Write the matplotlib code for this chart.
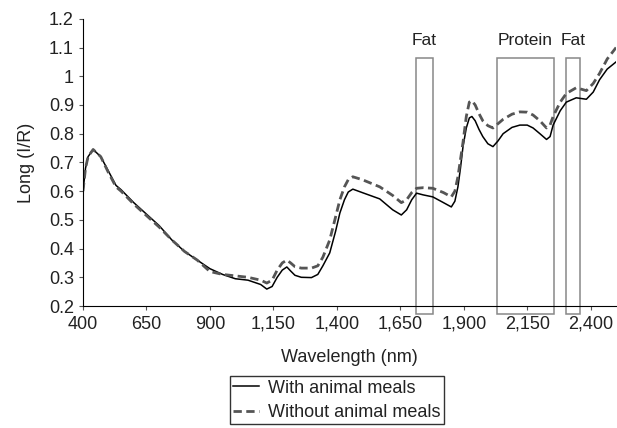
import matplotlib
matplotlib.use('Agg')
import matplotlib.pyplot as plt
from matplotlib.patches import Rectangle
from matplotlib.ticker import FuncFormatter

plt.rcParams['font.family'] = ['Liberation Sans', 'DejaVu Sans']

# spectra
wavelength = [400, 410, 420, 440, 470, 500, 530, 550, 600, 650, 700, 750, 800, 850,
              900, 950, 1000, 1050, 1100, 1124, 1145, 1165, 1185, 1203, 1218, 1235,
              1260, 1300, 1325, 1345, 1372, 1395, 1412, 1430, 1445, 1463, 1500, 1569,
              1620, 1654, 1675, 1695, 1714, 1740, 1778, 1820, 1851, 1865, 1877, 1887,
              1897, 1910, 1922, 1932, 1945, 1960, 1975, 1995, 2015, 2035, 2055, 2090,
              2121, 2150, 2173, 2200, 2226, 2240, 2252, 2280, 2304, 2343, 2383, 2410,
              2435, 2465, 2500]
with_meals = [0.60, 0.68, 0.72, 0.745, 0.72, 0.67, 0.62, 0.605, 0.56, 0.52, 0.48, 0.43,
              0.39, 0.36, 0.33, 0.31, 0.295, 0.29, 0.275, 0.259, 0.268, 0.30, 0.325,
              0.336, 0.322, 0.307, 0.30, 0.299, 0.31, 0.34, 0.385, 0.46, 0.524, 0.57,
              0.597, 0.607, 0.595, 0.573, 0.535, 0.517, 0.535, 0.57, 0.593, 0.587,
              0.58, 0.56, 0.545, 0.565, 0.615, 0.68, 0.755, 0.82, 0.855, 0.86, 0.845,
              0.815, 0.79, 0.765, 0.755, 0.775, 0.80, 0.822, 0.83, 0.83, 0.82, 0.80,
              0.78, 0.79, 0.83, 0.88, 0.91, 0.925, 0.92, 0.945, 0.988, 1.025, 1.05]
without_meals = [0.60, 0.68, 0.72, 0.745, 0.72, 0.665, 0.615, 0.60, 0.555, 0.515,
                 0.475, 0.43, 0.39, 0.36, 0.32, 0.31, 0.305, 0.30, 0.29, 0.28, 0.29,
                 0.325, 0.35, 0.36, 0.35, 0.337, 0.332, 0.332, 0.34, 0.37, 0.43, 0.51,
                 0.57, 0.615, 0.64, 0.65, 0.64, 0.615, 0.585, 0.56, 0.57, 0.595, 0.61,
                 0.612, 0.61, 0.595, 0.58, 0.60, 0.65, 0.71, 0.77, 0.86, 0.91, 0.915,
                 0.90, 0.87, 0.845, 0.828, 0.82, 0.835, 0.85, 0.868, 0.876, 0.875,
                 0.865, 0.845, 0.82, 0.83, 0.86, 0.91, 0.94, 0.96, 0.95, 0.975, 1.01,
                 1.06, 1.10]

# absorption bands (start, end, label)
band_start = [1712, 2032, 2304]
band_end = [1777, 2254, 2357]
band_label = ['Fat', 'Protein', 'Fat']

fig = plt.figure(figsize=(6.17, 4.28), dpi=100)
ax = fig.add_axes([0.1345, 0.285, 0.864, 0.671])

ax.plot(wavelength, with_meals, color='black', lw=1.1, label='With animal meals')
ax.plot(wavelength, without_meals, color='#555555', lw=2.0, dashes=(3, 1.6),
        label='Without animal meals')

for s, e, lab in zip(band_start, band_end, band_label):
    ax.add_patch(Rectangle((s, 0.172), e - s, 1.065 - 0.172, fill=False,
                           edgecolor='#888888', lw=1.1, clip_on=False))
    ax.text((s + e) / 2, 1.097, lab, ha='center', va='bottom', fontsize=12.5,
            color='#222222')

ax.set_xlim(400, 2500)
ax.set_ylim(0.2, 1.2)
ax.set_xticks([400, 650, 900, 1150, 1400, 1650, 1900, 2150, 2400])
ax.set_yticks([0.2, 0.3, 0.4, 0.5, 0.6, 0.7, 0.8, 0.9, 1.0, 1.1, 1.2])
ax.xaxis.set_major_formatter(FuncFormatter(lambda v, p: f'{int(v):,}'))
ax.yaxis.set_major_formatter(FuncFormatter(lambda v, p: f'{v:g}'))
ax.tick_params(labelsize=13, length=3, color='#555555', colors='#222222')
ax.tick_params(axis='x', pad=4)
ax.spines['top'].set_visible(False)
ax.spines['right'].set_visible(False)
ax.set_xlabel('Wavelength (nm)', fontsize=13, labelpad=12, color='#222222')
ax.set_ylabel('Long (I/R)', fontsize=13, labelpad=10, color='#222222')

fig.legend(loc='upper center', bbox_to_anchor=(0.546, 0.1215), fontsize=13,
           frameon=True, fancybox=False, edgecolor='black', handlelength=1.4,
           handletextpad=0.5, borderpad=0.2, labelspacing=0.4, borderaxespad=0,
           labelcolor='#222222')

fig.savefig('out.png', dpi=100)
